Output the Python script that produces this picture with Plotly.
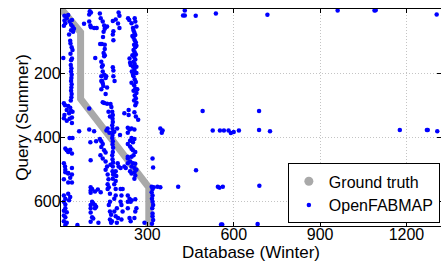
import plotly.graph_objects as go

# Ground truth path (database index vs query index)
gt_db = [0, 68, 68, 305, 305]
gt_query = [0, 73, 280, 555, 675]

# OpenFABMAP matches: left column
fab_db_left = [12,12,10,30,35,40,35,42,45,28,20,38,25,15,
               32,33,37,40,8,38,
               33,35,34,36,35,37,36,35,37,36,35,37,36,34,
               10,14,25,32,20,35,28,40,12,38,
               10,20,30,38,63,30,40,15,20,25,38,32,10,14,15,25,38,
               15,25,38,32,10,25,38,10,15,10,15,15,10,20,10,15,10,20,28,32,25,57,15]
fab_q_left = [22,37,53,40,50,55,67,72,62,80,30,35,20,45,
              100,108,120,128,153,155,
              140,160,175,185,195,205,215,225,235,245,255,265,275,285,
              294,300,302,308,315,318,325,320,330,338,
              340,348,342,355,381,402,402,434,440,445,450,438,480,490,500,510,495,
              508,512,515,525,530,540,540,580,590,600,608,620,628,632,642,648,660,665,595,585,575,672,672]

# OpenFABMAP matches: middle columns
fab_db_mid = [100,98,104,98,102,104,80,115,124,119,
              135,138,145,150,155,160,152,148,146,142,136,152,152,148,150,152,
              180,182,180,182,190,198,203,200,203,
              140,142,145,140,143,147,140,
              98,145,150,155,157,140,145,160,155,
              145,150,160,172,175,178,180,165,170,
              180,182,182,186,
              98,115,102,122,135,140,145,140,150,155,103,137,145,155,160,155,172,
              179,180,178,179,181,179,178,180,179,181,180,178,179,181,180,179,181,180,
              162,158,168,185,195,205,197,200,207,
              103,108,103,118,128,138,103,
              108,103,112,118,122,103,118,103,108,112,130,103,
              162,165,162,166,162,170,170,166,170,174,170,174,177,
              185,190,192,190,185,190,190,185,194,185,190,198,194,
              207,214,210,207,210,214,210]
fab_q_mid = [8,18,12,40,52,58,47,60,60,153,
             15,30,40,52,58,55,62,72,88,110,110,112,125,138,148,145,
             38,70,80,98,34,46,60,12,22,
             165,180,195,210,225,240,250,
             310,176,205,215,210,225,232,245,265,
             291,293,295,296,305,320,330,320,335,
             182,192,210,225,
             375,381,415,412,405,412,420,430,440,447,471,455,465,475,490,500,485,
             342,352,362,372,382,392,402,412,422,432,445,455,468,478,490,505,515,528,
             372,378,385,382,372,392,480,490,495,
             555,560,565,568,562,570,572,
             600,610,605,610,615,620,620,633,648,652,665,662,
             515,530,545,555,560,575,600,610,630,640,655,665,660,
             515,505,520,535,545,560,580,590,620,630,645,650,665,
             560,560,580,600,610,630,655]

# OpenFABMAP matches: dense right column
fab_db_col = [233,237,245,258,256,250,252,255,258,252,256,260,254,258,252,256,260,254,258,252,256,238,240,
              262,248,262,248,262,246,250,262,
              250,255,258,252,256,260,254,258,252,262,256,260,254,262,258,242,245,265,
              235,220,235,255,260,
              232,238,245,255,232,268,
              245,255,240,250,232,240,245,250,258,252,245,232,240,250,258,245,255,262,232,225,232,220,
              240,245,255,258,255,
              232,238,232,232,238,242,
              242,245,258,262,258,255,290]
fab_q_col = [30,35,45,40,30,60,68,75,82,90,98,105,112,120,128,135,142,150,158,165,172,155,168,
             55,85,115,145,180,195,205,200,
             180,190,198,210,220,228,238,248,255,262,270,278,285,292,300,175,230,250,
             315,325,330,322,335,
             370,375,372,375,385,345,
             402,405,410,415,420,428,435,440,445,455,460,465,475,480,482,490,495,500,480,495,460,490,
             505,512,508,518,528,
             580,590,600,620,650,660,
             600,595,592,620,630,650,665]

# OpenFABMAP matches: around the final ground-truth segment
fab_db_gt = [318,320,315,322,335,318,315,318,316,318,320,317,318,318,320,316,345,407]
fab_q_gt = [465,493,553,555,553,560,570,580,590,600,610,620,636,645,656,668,555,553]

# OpenFABMAP matches: sparse far matches
fab_db_far = [430,424,430,468,538,717,961,1089,1093,1305,
              688,492,552,566,582,590,600,618,527,345,350,353,
              688,726,1177,1271,1274,1307,
              469,545,550,562,689,556,560,683]
fab_q_far = [6,21,21,22,15,19,6,6,5,18,
             318,318,378,378,378,386,383,378,378,372,385,378,
             377,381,377,377,377,381,
             502,553,556,553,550,670,670,669]

fab_db = fab_db_left + fab_db_mid + fab_db_col + fab_db_gt + fab_db_far
fab_q = fab_q_left + fab_q_mid + fab_q_col + fab_q_gt + fab_q_far

x_ticks = [300, 600, 900, 1200]
y_ticks = [200, 400, 600]

FONT = "Liberation Sans, Arial, sans-serif"

fig = go.Figure()
fig.add_trace(go.Scatter(
    x=gt_db, y=gt_query, mode="lines",
    line=dict(color="#a9a9a9", width=7), showlegend=False, hoverinfo="skip",
))
fig.add_trace(go.Scatter(
    x=[None], y=[None], mode="markers", name="Ground truth",
    marker=dict(color="#a9a9a9", size=9),
))
fig.add_trace(go.Scatter(
    x=fab_db, y=fab_q, mode="markers", name="OpenFABMAP",
    marker=dict(color="#0000ff", size=4.5, line=dict(width=0)),
))

axis_common = dict(
    showline=True, linecolor="black", linewidth=1.3, mirror="ticks",
    ticks="inside", ticklen=4, tickcolor="black",
    showgrid=True, gridcolor="#c4c4c4", griddash="1px,2px", gridwidth=1,
    zeroline=False, tickfont=dict(family=FONT, size=16, color="black"),
    automargin=False,
)

fig.update_layout(
    width=441, height=263,
    margin=dict(l=61, r=0, t=9, b=37),
    paper_bgcolor="white", plot_bgcolor="white",
    font=dict(family=FONT, size=16, color="black"),
    xaxis=dict(range=[0, 1320], tickvals=x_ticks, ticklabelstandoff=-6,
               title=dict(text="Database (Winter)", font=dict(family=FONT, size=17), standoff=0),
               **axis_common),
    yaxis=dict(range=[675, 1], tickvals=y_ticks, ticklabelstandoff=-4,
               title=dict(text="Query (Summer)", font=dict(family=FONT, size=17), standoff=0),
               **axis_common),
    legend=dict(x=0.997, xanchor="right", y=0.012, yanchor="bottom",
                bgcolor="white", bordercolor="black", borderwidth=1,
                font=dict(family=FONT, size=16), itemwidth=30,
                tracegroupgap=0),
)

fig.write_html("out.html", config={"displayModeBar": False},
               post_script="document.body.style.margin='0px';")
